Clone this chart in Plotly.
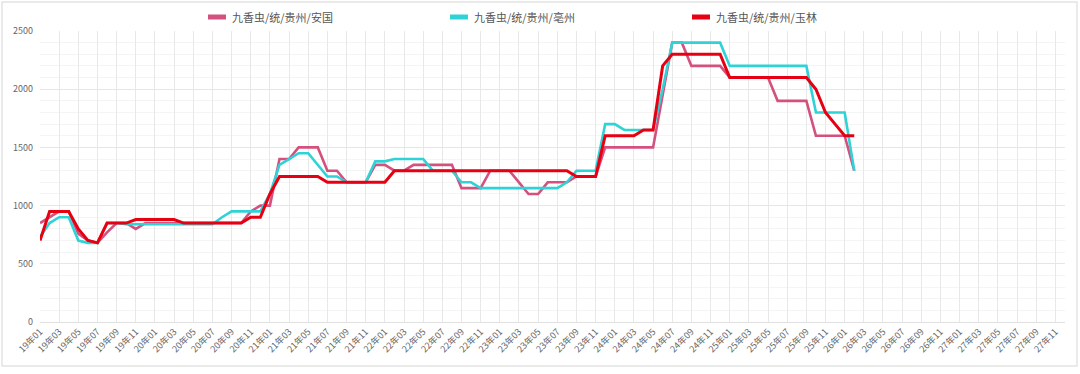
import plotly.graph_objects as go

# categories: monthly 19年01 .. 27年12
categories = [f"{y}年{m:02d}" for y in range(19, 28) for m in range(1, 13)]
tick_labels = categories[::2]

series_names = ["九香虫/统/贵州/安国", "九香虫/统/贵州/亳州", "九香虫/统/贵州/玉林"]

anguo = [850, 900, 950, 950, 760, 700, 680, 770, 850, 850, 800,
         850, 850, 850, 850, 850, 850, 850, 850, 850, 850,
         850, 950, 1000, 1000, 1400, 1400, 1500, 1500, 1500, 1300,
         1300, 1200, 1200, 1200, 1350, 1350, 1300, 1300, 1350, 1350,
         1350, 1350, 1350, 1150, 1150, 1150, 1300, 1300, 1300, 1200,
         1100, 1100, 1200, 1200, 1200, 1250, 1250, 1250, 1500, 1500,
         1500, 1500, 1500, 1500, 1950, 2400, 2400, 2200, 2200, 2200,
         2200, 2100, 2100, 2100, 2100, 2100, 1900, 1900, 1900, 1900,
         1600, 1600, 1600, 1600, 1300]

bozhou = [730, 850, 900, 900, 700, 680, 680, 850, 850, 840,
          840, 840, 840, 840, 840, 840, 840, 840, 840, 900,
          950, 950, 950, 950, 1100, 1350, 1400, 1450, 1450, 1350,
          1250, 1250, 1200, 1200, 1200, 1380, 1380, 1400, 1400, 1400,
          1400, 1300, 1300, 1300, 1200, 1200, 1150, 1150, 1150, 1150,
          1150, 1150, 1150, 1150, 1150, 1200, 1300, 1300, 1300, 1700,
          1700, 1650, 1650, 1650, 1650, 2000, 2400, 2400, 2400, 2400,
          2400, 2400, 2200, 2200, 2200, 2200, 2200, 2200, 2200, 2200,
          2200, 1800, 1800, 1800, 1800, 1300]

yulin = [700, 950, 950, 950, 800, 700, 680, 850, 850, 850,
         880, 880, 880, 880, 880, 850, 850, 850, 850, 850,
         850, 850, 900, 900, 1100, 1250, 1250, 1250, 1250, 1250,
         1200, 1200, 1200, 1200, 1200, 1200, 1200, 1300, 1300, 1300,
         1300, 1300, 1300, 1300, 1300, 1300, 1300, 1300, 1300, 1300,
         1300, 1300, 1300, 1300, 1300, 1300, 1250, 1250, 1250, 1600,
         1600, 1600, 1600, 1650, 1650, 2200, 2300, 2300, 2300, 2300,
         2300, 2300, 2100, 2100, 2100, 2100, 2100, 2100, 2100, 2100,
         2100, 2000, 1800, 1700, 1600, 1600]

colors = ["#d4507f", "#2fd3d6", "#e60012"]
widths = [2.6, 2.6, 3]
values = [anguo, bozhou, yulin]

FONT = "Noto Sans CJK SC, Microsoft YaHei, sans-serif"

fig = go.Figure()
for name, vals, c, w in zip(series_names, values, colors, widths):
    fig.add_trace(go.Scatter(
        x=categories[:len(vals)], y=vals, name=name, mode="lines",
        line=dict(color=c, width=w), showlegend=False,
    ))

W, H = 1080, 374
ml, mr, mt, mb = 40, 15, 31, 52
pw = W - ml - mr
ph = H - mt - mb


def px_x(p):
    return (p - ml) / pw


def px_y(p):
    return 1 + (mt - p) / ph


fig.update_layout(
    width=W, height=H,
    margin=dict(l=ml, r=mr, t=mt, b=mb, autoexpand=False),
    paper_bgcolor="white", plot_bgcolor="white",
    font=dict(family=FONT, size=11, color="#555"),
    showlegend=False,
    xaxis=dict(
        type="category", categoryorder="array", categoryarray=categories,
        range=[0, len(categories) - 1],
        tickmode="array", tickvals=tick_labels, ticktext=tick_labels,
        tickangle=-45, tickfont=dict(size=9, color="#666", family=FONT),
        showgrid=True, gridcolor="#e8e8e8", gridwidth=1,
        showline=True, linecolor="#e0e0e0", linewidth=1,
        ticks="", zeroline=False, fixedrange=True, automargin=False,
    ),
    yaxis=dict(
        range=[0, 2500], tickmode="array",
        tickvals=[0, 500, 1000, 1500, 2000, 2500],
        tickfont=dict(size=9, color="#666", family=FONT),
        showgrid=True, gridcolor="#e6e6e6", gridwidth=1,
        minor=dict(dtick=100, showgrid=True, gridcolor="#f4f4f4", gridwidth=1),
        zeroline=False, showline=False, ticks="", ticklabelstandoff=6,
        automargin=False, fixedrange=True,
    ),
    hovermode=False,
)

# custom legend (short swatch + label)
legend_x = [208, 450, 692]
legend_y = 17
shapes = []
annotations = []
for name, c, lx in zip(series_names, colors, legend_x):
    shapes.append(dict(
        type="rect", xref="paper", yref="paper",
        x0=px_x(lx), x1=px_x(lx + 18),
        y0=px_y(legend_y + 2.5), y1=px_y(legend_y - 2.5),
        fillcolor=c, line=dict(width=0), layer="above",
    ))
    annotations.append(dict(
        x=px_x(lx + 22), y=px_y(legend_y), xref="paper", yref="paper",
        text=name, showarrow=False, xanchor="left", yanchor="middle",
        font=dict(size=11, color="#555", family=FONT),
    ))

# outer light frame around the card
shapes.append(dict(
    type="rect", xref="paper", yref="paper",
    x0=px_x(2), x1=px_x(1077),
    y0=px_y(366), y1=px_y(2),
    line=dict(color="#e4e4e4", width=1.5), fillcolor="rgba(0,0,0,0)",
    layer="below",
))

fig.update_layout(shapes=shapes, annotations=annotations)

fig.write_html(
    "out.html",
    config={"displayModeBar": False, "staticPlot": True},
    post_script="document.body.style.margin='0';document.body.style.overflow='hidden';",
)
